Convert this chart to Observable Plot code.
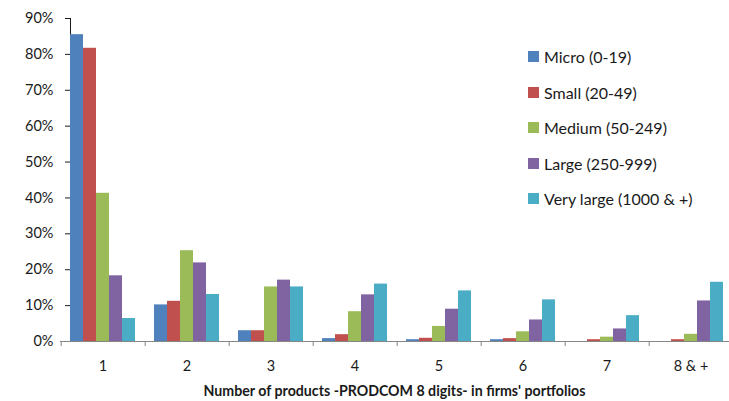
<!DOCTYPE html>
<html>
<head>
<meta charset="utf-8">
<script src="https://cdn.jsdelivr.net/npm/d3@7"></script>
<script src="https://cdn.jsdelivr.net/npm/@observablehq/plot@0.6"></script>
<style>
  html, body { margin: 0; padding: 0; background: #fff; }
  #wrap { position: relative; width: 729px; height: 401px; overflow: hidden; font-family: Lato, "Open Sans", sans-serif; color: #1a1a1a; }
  #legend { position: absolute; left: 528px; top: 38.8px; font-size: 16px; }
  .item { display: flex; align-items: center; height: 35.6px; }
  .sw { width: 11px; height: 11px; margin-right: 5px; }
  #xtitle { position: absolute; left: 60px; width: 669px; top: 382px; text-align: center; font-weight: bold; font-size: 14.2px; }
</style>
</head>
<body>
<div id="wrap">
  <div id="chart"></div>
  <div id="legend"></div>
  <div id="xtitle">Number of products -PRODCOM 8 digits- in firms' portfolios</div>
</div>
<script>
// Number of products per firm, grouped by firm size class (share of firms, %)
const categories = ["1", "2", "3", "4", "5", "6", "7", "8 & +"];
const series = ["Micro (0-19)", "Small (20-49)", "Medium (50-249)", "Large (250-999)", "Very large (1000 & +)"];
const micro     = [85.5, 10.2,  3.0,  0.8,  0.5,  0.5, 0.0,  0.0];
const small     = [81.7, 11.2,  3.0,  1.9,  0.9,  0.8, 0.5,  0.5];
const medium    = [41.3, 25.3, 15.2,  8.3,  4.2,  2.7, 1.2,  2.0];
const large     = [18.3, 21.9, 17.1, 13.0,  9.0,  6.0, 3.5, 11.3];
const veryLarge = [ 6.4, 13.1, 15.2, 16.0, 14.1, 11.6, 7.2, 16.5];
const yTicks = [0, 10, 20, 30, 40, 50, 60, 70, 80, 90];
const colors = ["#4F81BD", "#C0504D", "#9BBB59", "#8064A2", "#4BACC6"];

const valuesBySeries = [micro, small, medium, large, veryLarge];
const rows = [];
categories.forEach((c, i) => {
  series.forEach((s, j) => rows.push({category: c, series: s, value: valuesBySeries[j][i]}));
});

const marks = [
  Plot.barY(rows, {fx: "category", x: "series", y: "value", fill: "series"}),
  Plot.ruleY([0], {stroke: "#868686", insetLeft: -10, insetRight: -10}),
  // category labels under the axis
  Plot.axisFx({anchor: "bottom", tickSize: 0, tickPadding: 19, fontSize: 14.5, label: null}),
  // category separators on the bottom axis
  Plot.axisFx({anchor: "bottom", tickSize: 5, text: null, stroke: "#868686", dx: -41.8, label: null})
];

const chart = Plot.plot({
  width: 729,
  height: 380,
  marginLeft: 60,
  marginRight: -4,
  marginTop: 18,
  marginBottom: 39,
  style: {fontFamily: "Lato, 'Open Sans', sans-serif", fontSize: "14.5px", color: "#1a1a1a", background: "#fff"},
  fx: {domain: categories, paddingInner: 0.23, paddingOuter: 0.115, label: null},
  x: {domain: series, axis: null, padding: 0},
  y: {domain: [0, 90], ticks: yTicks, tickFormat: d => d + "%", tickSize: 5, tickPadding: 12, label: null, line: true},
  color: {domain: series, range: colors},
  marks
});
document.getElementById("chart").appendChild(chart);

const legend = d3.select("#legend");
series.forEach((s, j) => {
  const it = legend.append("div").attr("class", "item");
  it.append("div").attr("class", "sw").style("background", colors[j]);
  it.append("span").text(s);
});
</script>
</body>
</html>
